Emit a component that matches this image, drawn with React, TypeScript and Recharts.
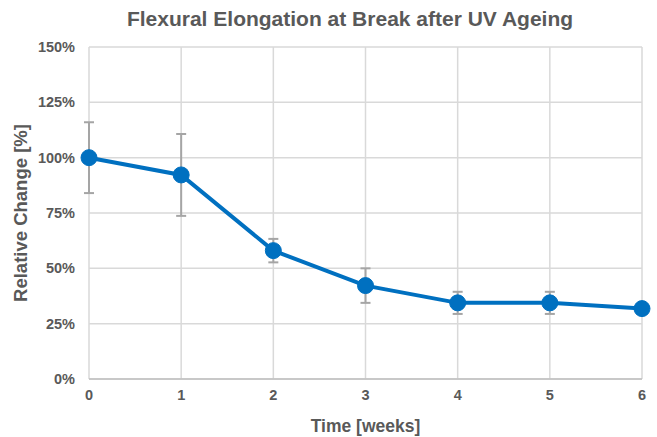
import React from 'react';
import { LineChart, Line, XAxis, YAxis, CartesianGrid, ErrorBar, Label } from 'recharts';

const weeks = [0, 1, 2, 3, 4, 5, 6];
const relativeChange = [100, 92.2, 58, 42.2, 34.4, 34.4, 31.8];
const errors = [16, 18.5, 5.3, 7.8, 5, 5, 0];
const yTicks = [0, 25, 50, 75, 100, 125, 150];

const data = weeks.map((w, i) => ({ week: w, value: relativeChange[i], err: errors[i] }));

const gray = '#595959';
const font = 'Liberation Sans, Arial, sans-serif';

export default function App() {
  return (
    <div style={{ position: 'absolute', left: 0, top: 0, background: '#fff' }}>
      <LineChart width={657} height={437} data={data} margin={{ top: 47, right: 15, bottom: 0, left: 0 }}>
        <text x={350} y={26} textAnchor="middle" fill={gray} fontFamily={font} fontWeight="bold" fontSize={21}>
          Flexural Elongation at Break after UV Ageing
        </text>
        <CartesianGrid stroke="#d9d9d9" strokeWidth={1.5} />
        <XAxis
          dataKey="week"
          type="number"
          domain={[0, 6]}
          ticks={weeks}
          height={58}
          tickLine={false}
          axisLine={{ stroke: '#bfbfbf', strokeWidth: 1.5 }}
          tickMargin={5}
          tick={{ fill: gray, fontSize: 14.5, fontWeight: 'bold', fontFamily: font }}
        >
          <Label value="Time [weeks]" position="insideBottom" offset={5} fill={gray} fontSize={17.5} fontWeight="bold" fontFamily={font} />
        </XAxis>
        <YAxis
          type="number"
          domain={[0, 150]}
          ticks={yTicks}
          width={89}
          tickLine={false}
          axisLine={false}
          tickMargin={8}
          tickFormatter={(v) => `${v}%`}
          tick={{ fill: gray, fontSize: 14.5, fontWeight: 'bold', fontFamily: font }}
        >
          <Label value="Relative Change [%]" angle={-90} position="insideLeft" offset={20} style={{ textAnchor: 'middle' }} fill={gray} fontSize={18.5} fontWeight="bold" fontFamily={font} />
        </YAxis>
        <Line
          dataKey="value"
          stroke="#0070C0"
          strokeWidth={4}
          dot={{ r: 8, fill: '#0070C0', stroke: '#0070C0', strokeWidth: 1 }}
          activeDot={false}
          isAnimationActive={false}
        >
          <ErrorBar dataKey="err" direction="y" width={5} stroke="#a5a5a5" strokeWidth={2} />
        </Line>
      </LineChart>
    </div>
  );
}
